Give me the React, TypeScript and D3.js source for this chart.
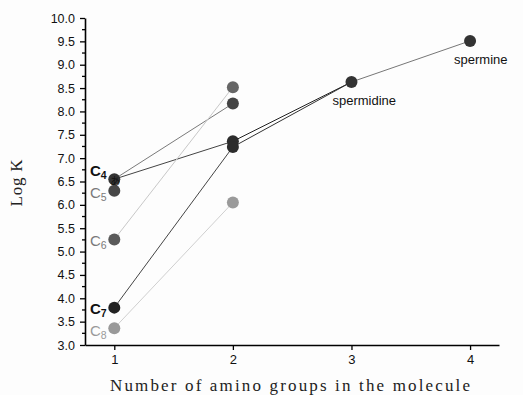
import { useEffect, useRef } from "react";
import * as d3 from "d3";

// log K values
const aminoTicks = [1, 2, 3, 4];
const logKTicks = [3, 3.5, 4, 4.5, 5, 5.5, 6, 6.5, 7, 7.5, 8, 8.5, 9, 9.5, 10];

const monoNames = ["C4", "C5", "C6", "C7", "C8"];
const monoLogK = [6.55, 6.3, 5.26, 3.8, 3.36];
const diNames = ["D6", "D5", "D4", "D7", "D8"];
const diLogK = [8.52, 8.17, 7.36, 7.24, 6.05];
const polyNames = ["spermidine", "spermine"];
const polyAmino = [3, 4];
const polyLogK = [8.63, 9.51];

// which points are joined
const links: [string, string][] = [
  ["C4", "D5"],
  ["C4", "D4"],
  ["C6", "D6"],
  ["C7", "D7"],
  ["C8", "D8"],
  ["D4", "spermidine"],
  ["D7", "spermidine"],
  ["spermidine", "spermine"],
];

const pointFill: Record<string, string> = {
  C4: "#333", C5: "#474747", C6: "#5a5a5a", C7: "#222", C8: "#999",
  D6: "#666", D5: "#444", D4: "#2c2c2c", D7: "#2c2c2c", D8: "#9a9a9a",
  spermidine: "#333", spermine: "#333",
};
const linkStroke: Record<string, string> = {
  "C4-D5": "#7a7a7a", "C4-D4": "#444", "C6-D6": "#c8c8c8", "C7-D7": "#444",
  "C8-D8": "#cfcfcf", "D4-spermidine": "#222", "D7-spermidine": "#333",
  "spermidine-spermine": "#777",
};
const labelStyle: Record<string, { fill: string; weight: number; dy: number }> = {
  C4: { fill: "#111", weight: 700, dy: -3 },
  C5: { fill: "#7a7a7a", weight: 400, dy: 7 },
  C6: { fill: "#7a7a7a", weight: 400, dy: 7 },
  C7: { fill: "#111", weight: 700, dy: 6 },
  C8: { fill: "#9a9a9a", weight: 400, dy: 8 },
};

const SANS = "'Liberation Sans', Arial, sans-serif";
const SERIF = "'Liberation Serif', 'Times New Roman', serif";

export default function App() {
  const ref = useRef<SVGSVGElement>(null);

  useEffect(() => {
    if (!ref.current) return;
    const W = 523, H = 395;
    const svg = d3.select(ref.current).attr("width", W).attr("height", H);
    svg.selectAll("*").remove();

    const x = d3.scaleLinear().domain([0.753, 4.244]).range([85, 499]);
    const y = d3.scaleLinear().domain([3, 10]).range([345, 18]);

    svg.append("rect").attr("width", W).attr("height", H).attr("fill", "#fdfdfd");

    const pts = [
      ...monoNames.map((id, i) => ({ id, n: 1, v: monoLogK[i] })),
      ...diNames.map((id, i) => ({ id, n: 2, v: diLogK[i] })),
      ...polyNames.map((id, i) => ({ id, n: polyAmino[i], v: polyLogK[i] })),
    ];
    const byId = new Map(pts.map(p => [p.id, p]));

    // lines
    for (const [a, b] of links) {
      const p = byId.get(a)!, q = byId.get(b)!;
      svg.append("line")
        .attr("x1", x(p.n)).attr("y1", y(p.v))
        .attr("x2", x(q.n)).attr("y2", y(q.v))
        .attr("stroke", linkStroke[`${a}-${b}`]).attr("stroke-width", 1);
    }

    // axes
    const yAxis = svg.append("g").attr("transform", "translate(85,0)")
      .call(d3.axisLeft(y).tickValues(logKTicks).tickSize(5).tickSizeOuter(0)
        .tickFormat(v => (+v).toFixed(1)));
    yAxis.select(".domain").attr("stroke", "#000").attr("stroke-width", 1.6);
    yAxis.selectAll("line").attr("stroke", "#000").attr("stroke-width", 1.3);
    yAxis.selectAll("text").attr("font-size", 12.5).attr("fill", "#111")
      .attr("font-family", SANS).attr("x", -10);
    yAxis.selectAll("line.minor")
      .data(d3.range(3.25, 10, 0.5)).enter().append("line").attr("class", "minor")
      .attr("x1", -3).attr("x2", 0).attr("y1", d => y(d)).attr("y2", d => y(d))
      .attr("stroke", "#000").attr("stroke-width", 1.3);

    const xAxis = svg.append("g").attr("transform", "translate(0,345)")
      .call(d3.axisBottom(x).tickValues(aminoTicks).tickSize(5).tickSizeOuter(0)
        .tickFormat(d3.format("d")));
    xAxis.select(".domain").attr("stroke", "#000").attr("stroke-width", 1.6);
    xAxis.selectAll("line").attr("stroke", "#000").attr("stroke-width", 1.3);
    xAxis.selectAll("text").attr("font-size", 13).attr("fill", "#111")
      .attr("font-family", SANS).attr("y", 10);

    // points
    svg.selectAll("circle.pt").data(pts).enter().append("circle")
      .attr("class", "pt")
      .attr("cx", d => x(d.n)).attr("cy", d => y(d.v)).attr("r", 6)
      .attr("fill", d => pointFill[d.id]);

    // C-labels
    for (const id of monoNames) {
      const p = byId.get(id)!, s = labelStyle[id];
      const t = svg.append("text").attr("x", 90).attr("y", y(p.v) + s.dy)
        .attr("font-family", SANS)
        .attr("font-weight", s.weight).attr("fill", s.fill);
      t.append("tspan").attr("font-size", 15).text(id.slice(0, 1));
      t.append("tspan").attr("font-size", 10.5).attr("dy", 3).text(id.slice(1));
    }
    svg.append("text").attr("x", x(1) - 4).attr("y", y(monoLogK[0]) + 6)
      .attr("font-size", 10).attr("fill", "#111")
      .attr("font-family", "'Noto Sans CJK JP', sans-serif").text("あ");

    // polyamine labels
    svg.append("text").attr("x", x(polyAmino[0]) - 19).attr("y", y(polyLogK[0]) + 23)
      .attr("font-size", 13).attr("fill", "#111")
      .attr("font-family", SANS).text(polyNames[0]);
    svg.append("text").attr("x", x(polyAmino[1]) - 16).attr("y", y(polyLogK[1]) + 23)
      .attr("font-size", 13).attr("fill", "#111")
      .attr("font-family", SANS).text(polyNames[1]);

    // titles
    svg.append("text").attr("x", 110).attr("y", 391)
      .attr("font-size", 17).attr("fill", "#222")
      .attr("font-family", SERIF)
      .attr("textLength", 360).attr("lengthAdjust", "spacing")
      .text("Number of amino groups in the molecule");
    svg.append("text").attr("transform", "translate(22,183) rotate(-90)")
      .attr("text-anchor", "middle").attr("font-size", 17).attr("fill", "#222")
      .attr("font-family", SERIF)
      .attr("textLength", 47).attr("lengthAdjust", "spacing")
      .text("Log K");
  }, []);

  return (
    <svg ref={ref} style={{ position: "absolute", left: 0, top: 0 }} />
  );
}
